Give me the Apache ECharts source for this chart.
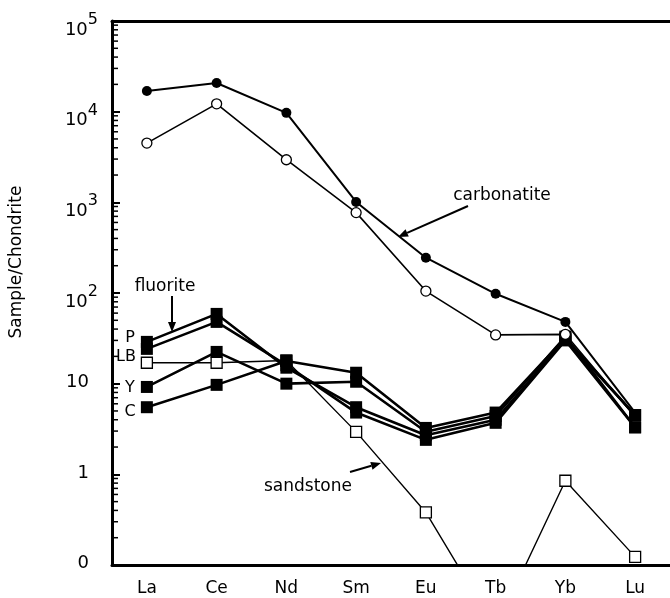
<!DOCTYPE html>
<html><head><meta charset="utf-8">
<script src="https://cdn.jsdelivr.net/npm/echarts@6/dist/echarts.min.js"></script>
<style>html,body{margin:0;padding:0;background:#fff}#c{width:670px;height:598px}</style>
</head><body><div id="c"></div>
<script>
const categories = ['La','Ce','Nd','Sm','Eu','Tb','Yb','Lu'];
const carbonatiteFilled = [16900, 20700, 9700, 1010, 245, 98, 48, 4.8];
const carbonatiteOpen   = [4500, 12200, 2950, 770, 105, 34.5, 35, 4.3];
const fluoriteP1 = [28.9, 58.8, 15, 5.5, 2.7, 4.0, 31, 4.5];
const fluoriteP2 = [24.2, 48, 16, 4.8, 2.4, 3.7, 30, 3.3];
const fluoriteY  = [9.2, 22.4, 10, 10.5, 2.95, 4.4, 33, 3.3];
const fluoriteC  = [5.5, 9.7, 17.8, 13.2, 3.25, 4.8, 32, 4.5];
const sandstoneLB = [17, 17, 18, 2.94, 0.38, 0.02, 0.85, 0.123];
const yTickLabels = ['{b|0}{w|}', '{b|1}{w|}', '{b|10}{w|}', '{c|10}{s|2}', '{c|10}{s|3}', '{c|10}{s|4}', '{c|10}{s|5}'];
const minorMultipliers = [2,3,4,5,6,7,8,9];
const decades = [0.1, 1, 10, 100, 1000, 10000];
const carbonatiteHiddenMarker = 'Lu';

const FONT = "'DejaVu Sans', 'Liberation Sans', Arial, sans-serif";
const minorData = [];
decades.forEach(d => minorMultipliers.forEach(m => minorData.push([0, m * d])));

function lineSeries(name, data, symbol, filled, size, width) {
  return {
    name, type: 'line', data, symbol, symbolSize: size,
    lineStyle: { color: '#000', width },
    itemStyle: { color: filled ? '#000' : '#fff', borderColor: '#000', borderWidth: filled ? 0 : 1.3 },
    z: 3, silent: true
  };
}
function hideAt(values, cat) {
  return values.map((v, i) => categories[i] === cat ? { value: v, symbol: 'none' } : v);
}

function arrow(x1, y1, x2, y2) {
  const ang = Math.atan2(y2 - y1, x2 - x1);
  const L = 10, W = 4;
  const bx = x2 - L * Math.cos(ang), by = y2 - L * Math.sin(ang);
  const px = -Math.sin(ang) * W, py = Math.cos(ang) * W;
  return [
    { type: 'line', shape: { x1, y1, x2: bx, y2: by }, style: { stroke: '#000', lineWidth: 2 } },
    { type: 'polygon', shape: { points: [[x2, y2], [bx + px, by + py], [bx - px, by - py]] }, style: { fill: '#000' } }
  ];
}

function txt(x, y, s, size, align) {
  return { type: 'text', x, y, style: { text: s, font: size + 'px ' + FONT, fill: '#000', align: align || 'center', verticalAlign: 'middle' } };
}

const chart = echarts.init(document.getElementById('c'), null, { renderer: 'canvas' });
chart.setOption({
  animation: false,
  backgroundColor: '#fff',
  grid: { left: 112, top: 21, bottom: 33, right: -2 },
  xAxis: [{
    type: 'category', data: categories, boundaryGap: true,
    axisLine: { lineStyle: { color: '#000', width: 3 } },
    axisTick: { alignWithLabel: true, inside: true, length: 10, lineStyle: { color: '#000', width: 2 } },
    axisLabel: { color: '#000', fontSize: 17, fontFamily: FONT, margin: 15 },
    splitLine: { show: false }
  }, {
    type: 'category', data: categories, position: 'top',
    axisLine: { lineStyle: { color: '#000', width: 3 } },
    axisTick: { show: false }, axisLabel: { show: false }, splitLine: { show: false }
  }],
  yAxis: {
    type: 'log', logBase: 10, min: 0.1, max: 100000,
    axisLine: { show: true, lineStyle: { color: '#000', width: 3 } },
    axisTick: { show: true, inside: true, length: 8, lineStyle: { color: '#000', width: 2 } },
    splitLine: { show: false },
    axisLabel: {
      color: '#000', fontFamily: FONT, fontSize: 18, margin: 14,
      formatter: v => yTickLabels[Math.round(Math.log10(v)) + 1],
      rich: {
        b: { fontSize: 18, fontFamily: FONT, color: '#000', lineHeight: 18, padding: [0, 0, 3, 0] },
        w: { width: 9, lineHeight: 1 },
        c: { fontSize: 18, fontFamily: FONT, color: '#000', lineHeight: 18, padding: [18, 0, 0, 0] },
        s: { fontSize: 16, fontFamily: FONT, color: '#000', lineHeight: 16, verticalAlign: 'top' }
      }
    }
  },
  series: [
    {
      type: 'custom', data: minorData, silent: true, z: 2,
      encode: { x: 0, y: 1 },
      renderItem: (params, api) => {
        const y = api.coord([0, api.value(1)])[1];
        const x0 = params.coordSys.x;
        return { type: 'line', shape: { x1: x0, y1: y, x2: x0 + 6, y2: y }, style: { stroke: '#000', lineWidth: 1.5 } };
      }
    },
    lineSeries('sandstone LB', sandstoneLB, 'rect', false, 11, 1.4),
    lineSeries('fluorite P1', fluoriteP1, 'rect', true, 12, 2.6),
    lineSeries('fluorite P2', fluoriteP2, 'rect', true, 12, 2.6),
    lineSeries('fluorite Y', fluoriteY, 'rect', true, 12, 2.6),
    lineSeries('fluorite C', fluoriteC, 'rect', true, 12, 2.6),
    lineSeries('carbonatite filled', hideAt(carbonatiteFilled, carbonatiteHiddenMarker), 'circle', true, 10, 2),
    lineSeries('carbonatite open', hideAt(carbonatiteOpen, carbonatiteHiddenMarker), 'circle', false, 10, 1.6)
  ],
  graphic: [
    { type: 'text', x: 17, y: 262, rotation: Math.PI / 2,
      style: { text: 'Sample/Chondrite', font: '17px ' + FONT, fill: '#000', align: 'center', verticalAlign: 'middle' } },
    txt(165, 287, 'fluorite', 17),
    txt(502, 196, 'carbonatite', 17),
    txt(308, 487, 'sandstone', 17),
    txt(130, 338, 'P', 16),
    txt(126, 357, 'LB', 16),
    txt(130, 388, 'Y', 16),
    txt(130, 412, 'C', 16),
    ...arrow(172, 296, 172, 332),
    ...arrow(468, 206, 398, 237),
    ...arrow(350, 472, 381, 463)
  ]
});
</script></body></html>
